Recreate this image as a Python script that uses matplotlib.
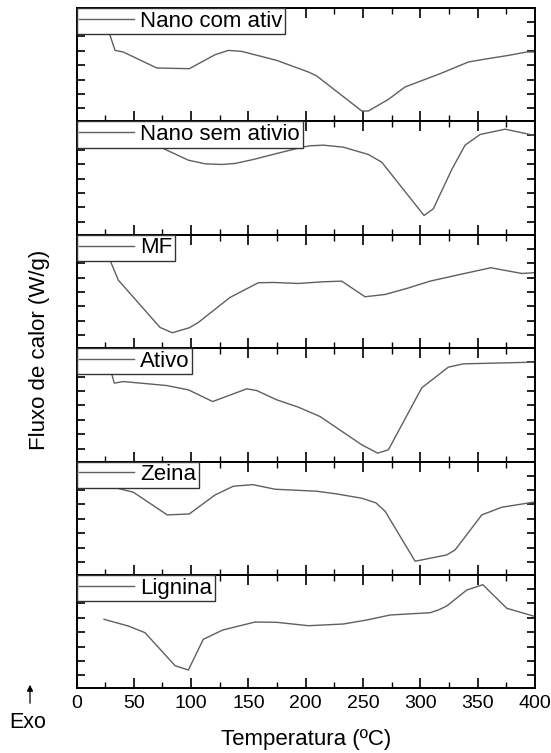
import numpy as np
import matplotlib
matplotlib.use("Agg")
import matplotlib.pyplot as plt
from matplotlib.ticker import MultipleLocator

plt.rcParams['font.family'] = ['Liberation Sans', 'DejaVu Sans']

# ---- data (temperature in ºC, heat flow in arbitrary units) ----
labels = ["Nano com ativ", "Nano sem ativio", "MF", "Ativo", "Zeina", "Lignina"]

t_nano_com = [25, 33.6, 40.8, 70, 98.4, 120.9, 132.5, 144.2, 174.7, 202.3, 209.6, 248.9, 254.6,
              272.1, 286.6, 317.2, 341.9, 355, 376.8, 392.8, 400]
y_nano_com = [100, 70, 68.4, 52.4, 51.7, 65.7, 70, 69, 60, 48.4, 44.4, 9.4, 9.4,
              21, 33.4, 46.7, 58.4, 61, 65, 68.4, 68.4]

t_nano_sem = [25, 74.3, 97.6, 112.1, 126.7, 138.3, 154.3, 174.7, 197, 203.8, 215.4, 232.8, 254.6,
              266.3, 303.2, 311.3, 327.4, 339, 352.1, 373.9, 398.6]
y_nano_sem = [92, 83.7, 71.3, 67.7, 67, 68, 72, 78, 84.3, 85.7, 86.3, 84.3, 77,
              69.3, 16, 22.7, 62, 86.3, 97, 102.3, 96.3]

t_mf = [25, 29.2, 36.5, 72.9, 83.6, 98.4, 106.3, 133.9, 158.6, 171.7, 193.5, 215.4, 231.4,
        251.7, 269.2, 288.1, 308.4, 334.6, 361.4, 388.5, 398.6]
y_mf = [107, 85.3, 65.3, 18, 12.7, 17.7, 23, 48, 62.7, 63, 62, 63.7, 64.3,
        48.7, 51, 57, 64.3, 71, 77.7, 72, 72.7]

t_ativo = [25, 30.7, 33, 40.8, 78.7, 97.6, 118.8, 148.5, 157.2, 174.7, 193.5, 212.5, 248.9,
           262.8, 272.1, 301.2, 324.4, 337.5, 363.7, 398.6]
y_ativo = [100.7, 85.7, 76.4, 78, 74, 69.7, 58, 70.7, 69, 59.7, 52.4, 43, 14.7,
           6.4, 9.7, 71.7, 92.4, 95.7, 96.4, 97.4]

t_zeina = [1, 32.1, 49.6, 79.2, 98.4, 120.9, 136.8, 153.8, 173.2, 209.6, 227, 248.9, 261.3,
           269.2, 295.4, 323, 330.3, 353.6, 371, 398.6]
y_zeina = [84, 84, 79, 56.3, 57.3, 76.3, 85, 86.6, 82, 80, 77.3, 73, 68.3,
           60, 10, 16.3, 21.3, 56.3, 64, 69]

t_lignina = [24, 45.2, 59.8, 86, 97.6, 110.6, 127.6, 155.8, 174.7, 202.3, 232.8, 253.2, 273.6,
             308.5, 315.7, 323, 340.5, 354.5, 375.4, 398.6]
y_lignina = [69, 62.3, 55.6, 22.6, 18.3, 49, 58.3, 66.3, 66, 62.6, 64.3, 68.3, 73.3,
             75.6, 78.3, 82.3, 98.3, 103.6, 80, 72.3]

series_t = [t_nano_com, t_nano_sem, t_mf, t_ativo, t_zeina, t_lignina]
series_y = [y_nano_com, y_nano_sem, y_mf, y_ativo, y_zeina, y_lignina]
y_lower = [-1, -3.3, -2.7, -2, -3.7, 0]
panel_h = 113.4

# ---- figure ----
fig = plt.figure(figsize=(5.51, 7.53), dpi=100)
left, right = 76.5 / 551, 535 / 551
top, bottom = 1 - 8 / 753, 1 - 688.3 / 753
n = len(labels)
h = (top - bottom) / n
line_color = "#5f5f5f"

axes = []
for i in range(n):
    ax = fig.add_axes([left, top - (i + 1) * h, right - left, h])
    ax.plot(series_t[i], series_y[i], color=line_color, lw=1.0, label=labels[i])
    ax.set_xlim(0, 400)
    lo = y_lower[i]
    ax.set_ylim(lo, lo + panel_h)
    ax.set_yticks([lo + 13 + 14.4 * k for k in range(7)])
    ax.xaxis.set_major_locator(MultipleLocator(50))
    ax.xaxis.set_minor_locator(MultipleLocator(25))
    ax.tick_params(axis='x', which='major', direction='in', top=True, bottom=True,
                   length=7, width=1.2, labelsize=14, pad=5)
    ax.tick_params(axis='x', which='minor', direction='in', top=True, bottom=True,
                   length=4, width=1.0)
    ax.tick_params(axis='y', which='major', direction='in', left=True, right=True,
                   length=6, width=1.2, labelleft=False)
    for sp in ax.spines.values():
        sp.set_linewidth(1.4)
    if i < n - 1:
        ax.tick_params(axis='x', labelbottom=False)
    leg = ax.legend(loc='upper left', bbox_to_anchor=(0, 1), borderaxespad=0,
                    fontsize=16, frameon=True, fancybox=False, framealpha=1,
                    edgecolor='#333333', handlelength=2.45, handletextpad=0.3,
                    borderpad=0.12)
    leg.get_frame().set_linewidth(1.0)
    leg.set_zorder(5)
    axes.append(ax)

fig.text(306 / 551, 1 - 740 / 753, "Temperatura (ºC)", ha='center', va='center', fontsize=16)
fig.text(40 / 551, 1 - 350 / 753, "Fluxo de calor (W/g)", ha='center', va='center',
         rotation=90, fontsize=16)

fig.text(28 / 551, 1 - 722 / 753, "Exo", ha='center', va='center', fontsize=15.5)
fig.add_artist(matplotlib.patches.FancyArrowPatch(
    (30 / 551, 1 - 706 / 753), (30 / 551, 1 - 682 / 753),
    transform=fig.transFigure, arrowstyle='-|>', mutation_scale=9, color='black', lw=0.9))

fig.savefig("out.png", dpi=100)
